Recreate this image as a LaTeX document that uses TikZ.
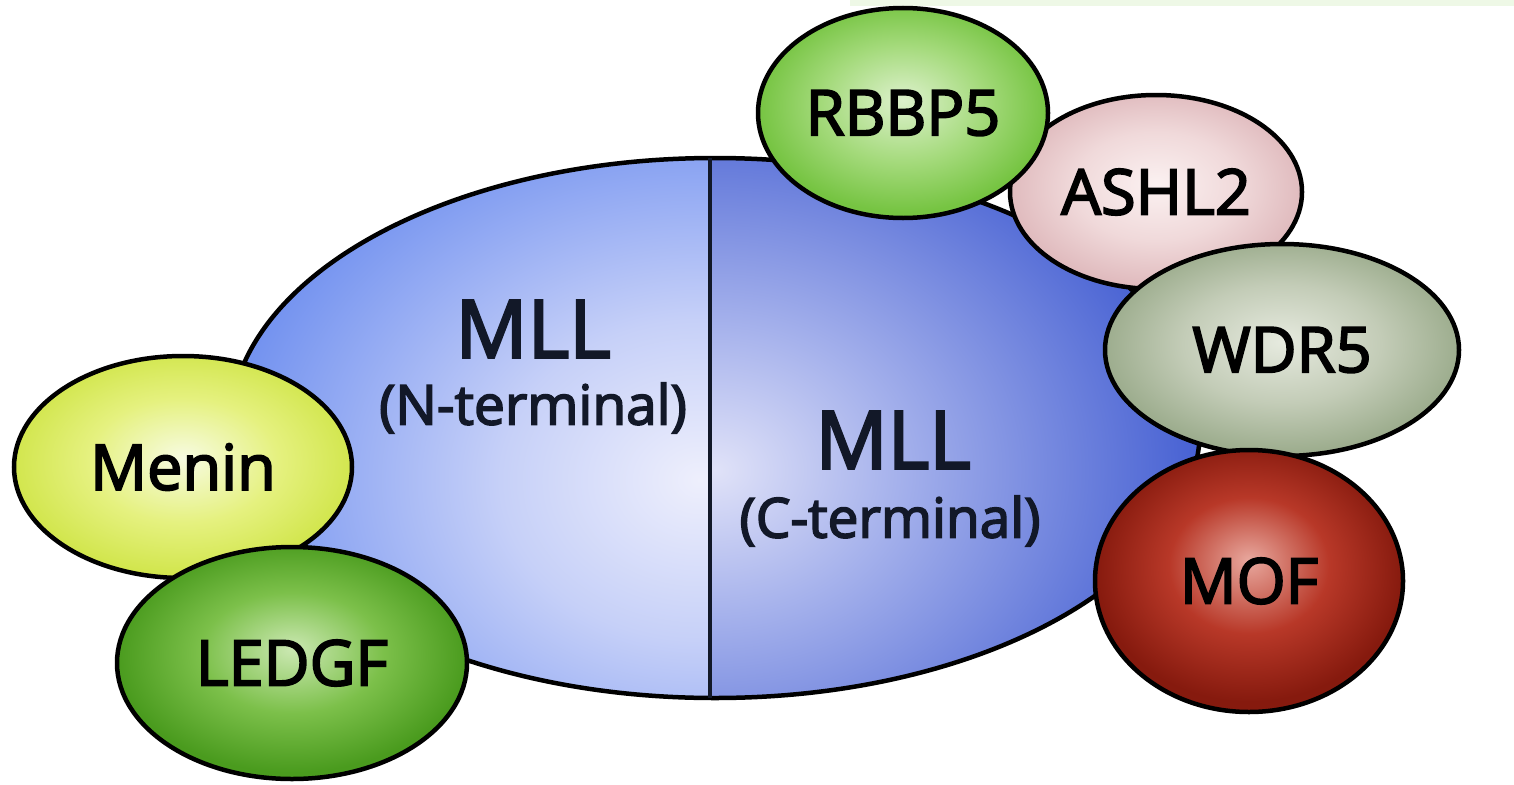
\documentclass[tikz,border=0pt]{standalone}
\usepackage{fontspec}
\setmainfont{Open Sans}[FakeBold=3]
\usetikzlibrary{shapes.geometric}
\definecolor{mllLin}{HTML}{EEEFFC}
\definecolor{mllLmid}{HTML}{C6D0F8}
\definecolor{mllLout}{HTML}{6C8DEF}
\definecolor{mllRin}{HTML}{E0E2F8}
\definecolor{mllRmid}{HTML}{A6B2EC}
\definecolor{mllRout}{HTML}{4862D3}
\definecolor{rbIn}{HTML}{DDF1CC}
\definecolor{rbMid}{HTML}{A4DA7B}
\definecolor{rbOut}{HTML}{76C442}
\definecolor{asIn}{HTML}{FBF1F1}
\definecolor{asMid}{HTML}{F0D9DA}
\definecolor{asOut}{HTML}{E0BBBE}
\definecolor{wdIn}{HTML}{E6EADF}
\definecolor{wdMid}{HTML}{C3CCB7}
\definecolor{wdOut}{HTML}{9DAD8E}
\definecolor{moIn}{HTML}{E8A89E}
\definecolor{moMid}{HTML}{B83828}
\definecolor{moOut}{HTML}{861A0E}
\definecolor{meIn}{HTML}{F7FBE2}
\definecolor{meMid}{HTML}{E5F17F}
\definecolor{meOut}{HTML}{D2E64E}
\definecolor{leIn}{HTML}{CBE8B2}
\definecolor{leMid}{HTML}{7CC04A}
\definecolor{leOut}{HTML}{4A9B1E}
\definecolor{inkblue}{HTML}{121828}
\definecolor{topstrip}{HTML}{EEF8E6}
\pgfdeclareradialshading{shMLLL}{\pgfpoint{0bp}{0bp}}{color(0bp)=(mllLin); color(10bp)=(mllLmid); color(25bp)=(mllLout); color(50bp)=(mllLout)}
\pgfdeclareradialshading{shMLLR}{\pgfpoint{0bp}{0bp}}{color(0bp)=(mllRin); color(9bp)=(mllRmid); color(24bp)=(mllRout); color(50bp)=(mllRout)}
\pgfdeclareradialshading{shRB}{\pgfpoint{0bp}{3bp}}{color(0bp)=(rbIn); color(14bp)=(rbMid); color(25bp)=(rbOut); color(50bp)=(rbOut)}
\pgfdeclareradialshading{shAS}{\pgfpoint{0bp}{2bp}}{color(0bp)=(asIn); color(14bp)=(asMid); color(25bp)=(asOut); color(50bp)=(asOut)}
\pgfdeclareradialshading{shWD}{\pgfpoint{0bp}{2bp}}{color(0bp)=(wdIn); color(14bp)=(wdMid); color(25bp)=(wdOut); color(50bp)=(wdOut)}
\pgfdeclareradialshading{shMO}{\pgfpoint{0bp}{4bp}}{color(0bp)=(moIn); color(13bp)=(moMid); color(25bp)=(moOut); color(50bp)=(moOut)}
\pgfdeclareradialshading{shME}{\pgfpoint{0bp}{2bp}}{color(0bp)=(meIn); color(14bp)=(meMid); color(25bp)=(meOut); color(50bp)=(meOut)}
\pgfdeclareradialshading{shLE}{\pgfpoint{0bp}{3bp}}{color(0bp)=(leIn); color(13bp)=(leMid); color(25bp)=(leOut); color(50bp)=(leOut)}
\newcommand\lblfont{\fontsize{63}{70}\selectfont}
\newcommand\mllfont{\fontsize{80}{90}\selectfont}
\newcommand\termfont{\fontsize{55}{62}\selectfont}
\begin{document}
\begin{tikzpicture}[x=1pt,y=-1pt,
  blob/.style={ellipse, draw=black, line width=4.5pt, inner sep=0pt, font=\lblfont, text=black},
  mlltext/.style={font=\mllfont, text=inkblue, inner sep=0pt},
  termtext/.style={font=\termfont, text=inkblue, inner sep=0pt}]
\useasboundingbox[fill=white] (0,0) rectangle (1514,784);
\fill[topstrip] (850,0) rectangle (1514,6);
% main MLL ellipse, two shaded halves
\begin{scope}
  \clip (715,428) ellipse [x radius=485, y radius=270];
  \begin{scope}
    \clip (200,100) rectangle (710,760);
    \shade[shading=shMLLL] (200,80) rectangle (1200,880);
  \end{scope}
  \begin{scope}
    \clip (710,100) rectangle (1230,760);
    \shade[shading=shMLLR] (215,70) rectangle (1215,870);
  \end{scope}
\end{scope}
\node[ellipse, draw=black, line width=4.5pt, inner sep=0pt, minimum width=970pt, minimum height=540pt] (mll) at (715,428) {};
\coordinate (divtop) at (710,158);
\coordinate (divbot) at (710,698);
\draw[inkblue, line width=4pt] (divtop) -- (divbot);
\node[mlltext] (mlln) at (533,329) {MLL};
\node[termtext] (nterm) at (533,408) {(N-terminal)};
\node[mlltext] (mllc) at (893,440) {MLL};
\node[termtext] (cterm) at (890,521) {(C-terminal)};
% partner proteins
\node[blob, shading=shAS, minimum width=292pt, minimum height=194pt] (ashl2) at (1156,192) {ASHL2};
\node[blob, shading=shRB, minimum width=290pt, minimum height=210pt] (rbbp5) at (903,113) {RBBP5};
\node[blob, shading=shWD, minimum width=354pt, minimum height=212pt] (wdr5) at (1282,350) {WDR5};
\node[blob, shading=shMO, minimum width=308pt, minimum height=262pt] (mof) at (1249,581) {MOF};
\node[blob, shading=shME, minimum width=338pt, minimum height=222pt] (menin) at (183,467) {Menin};
\node[blob, shading=shLE, minimum width=350pt, minimum height=232pt] (ledgf) at (292,663) {LEDGF};
\end{tikzpicture}
\end{document}
